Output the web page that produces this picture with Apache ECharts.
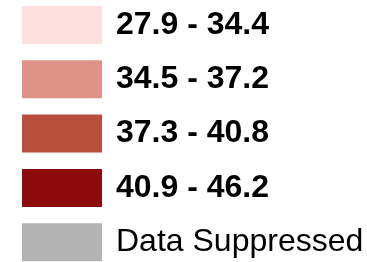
<!DOCTYPE html>
<html>
<head>
    <meta charset="utf-8">
    <title>ECharts</title>
    <script src="https://cdn.jsdelivr.net/npm/echarts@6/dist/echarts.min.js"></script>
</head>
<body style="margin:0">
<div id="main" style="width: 367px;height:262px;"></div>
<script type="text/javascript">
    var myChart = echarts.init(document.getElementById('main'));

    // legend classes (ranges) and their fill colours
    var classNames = ['27.9 - 34.4', '34.5 - 37.2', '37.3 - 40.8', '40.9 - 46.2', 'Data Suppressed'];
    var classColors = ['#fedfe0', '#df9286', '#b94e3d', '#8d0a0d', '#b3b3b3'];
    var classBold = [true, true, true, true, false];

    var series = classNames.map(function (name, i) {
        return {
            name: name,
            type: 'bar',
            data: [],
            itemStyle: { color: classColors[i] }
        };
    });

    var legendData = classNames.map(function (name, i) {
        return {
            name: name,
            textStyle: { fontWeight: classBold[i] ? 'bold' : 'normal' }
        };
    });

    option = {
        animation: false,
        xAxis: { show: false, type: 'category', data: [] },
        yAxis: { show: false },
        legend: {
            orient: 'vertical',
            left: 22,
            top: 6,
            height: 262,
            padding: 0,
            icon: 'rect',
            itemWidth: 80,
            itemHeight: 38,
            itemGap: 16.3,
            selectedMode: false,
            textStyle: {
                fontFamily: 'Liberation Sans, Arial, sans-serif',
                fontSize: 32,
                color: '#000',
                lineHeight: 38,
                padding: [0, 0, 0, 9]
            },
            data: legendData
        },
        series: series
    };

    myChart.setOption(option);
</script>
</body>
</html>
